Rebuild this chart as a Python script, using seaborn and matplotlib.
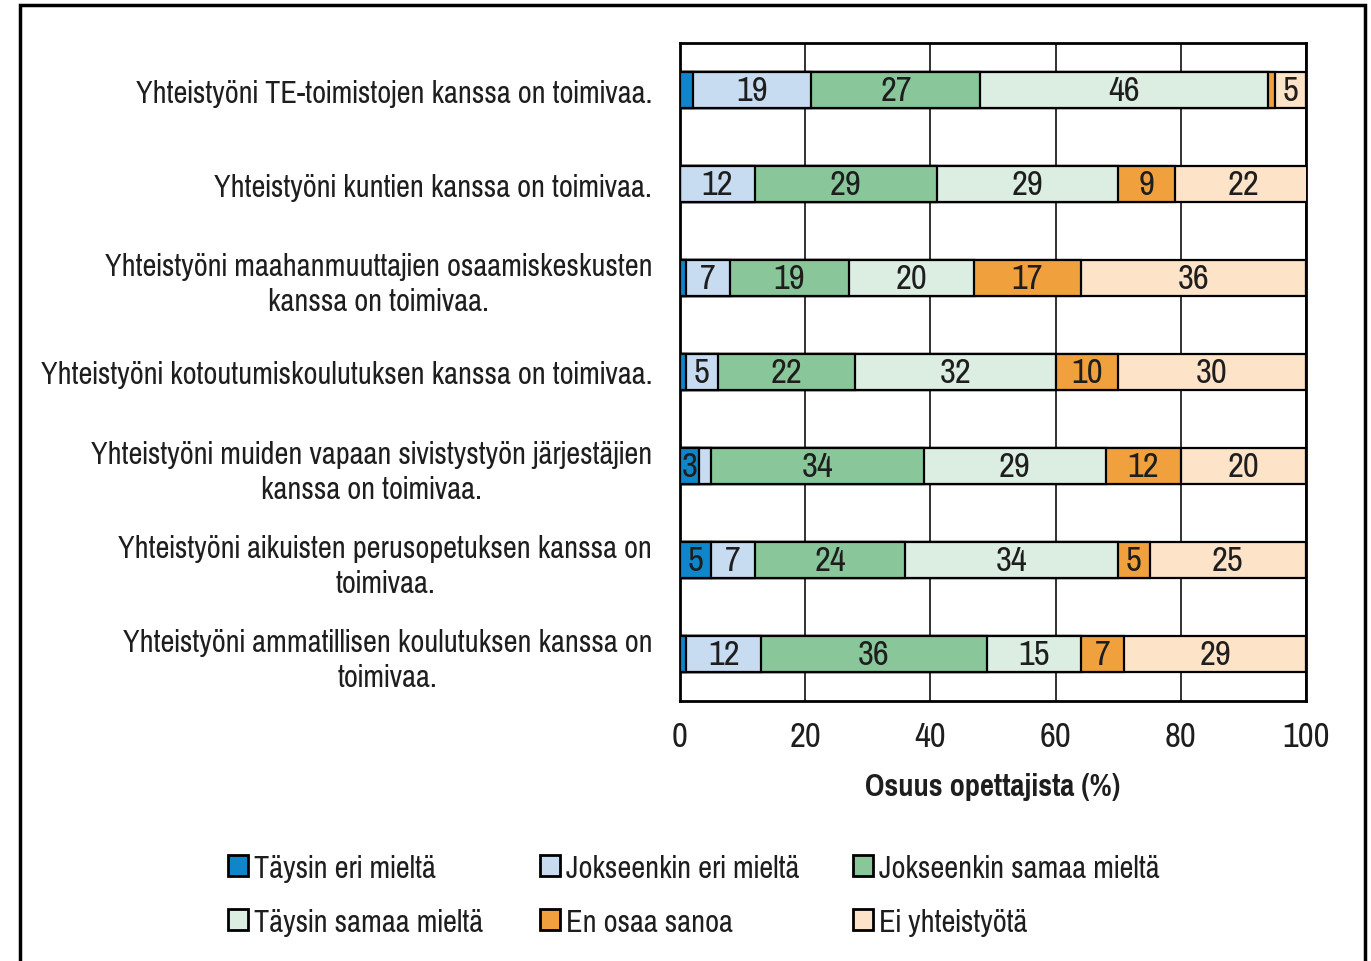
import numpy as np
import pandas as pd
import seaborn as sns
import matplotlib
matplotlib.use("Agg")
from matplotlib import pyplot as plt
from matplotlib import font_manager
from matplotlib.patches import Patch, Rectangle

categories = [
    "Yhteistyöni TE-toimistojen kanssa on toimivaa.",
    "Yhteistyöni kuntien kanssa on toimivaa.",
    "Yhteistyöni maahanmuuttajien osaamiskeskusten\nkanssa on toimivaa.",
    "Yhteistyöni kotoutumiskoulutuksen kanssa on toimivaa.",
    "Yhteistyöni muiden vapaan sivistystyön järjestäjien\nkanssa on toimivaa.",
    "Yhteistyöni aikuisten perusopetuksen kanssa on\ntoimivaa.",
    "Yhteistyöni ammatillisen koulutuksen kanssa on\ntoimivaa.",
]
series = [
    "Täysin eri mieltä",
    "Jokseenkin eri mieltä",
    "Jokseenkin samaa mieltä",
    "Täysin samaa mieltä",
    "En osaa sanoa",
    "Ei yhteistyötä",
]
taysin_eri = [2, 0, 1, 1, 3, 5, 1]
jokseenkin_eri = [19, 12, 7, 5, 2, 7, 12]
jokseenkin_samaa = [27, 29, 19, 22, 34, 24, 36]
taysin_samaa = [46, 29, 20, 32, 29, 34, 15]
en_osaa = [1, 9, 17, 10, 12, 5, 7]
ei_yhteistyota = [5, 22, 36, 30, 20, 25, 29]
colors = ["#0f86c9", "#c7dbf1", "#89c79b", "#dcede2", "#f0a13d", "#fde3c8"]

# narrow font like the original if one is around
names = {f.name for f in font_manager.fontManager.ttflist}
font = "Liberation Sans"
for cand in ["Liberation Sans Narrow", "Arial Narrow", "Pragati Narrow", "Archivo Narrow",
             "PT Sans Narrow", "Roboto Condensed", "Liberation Sans"]:
    if cand in names:
        font = cand
        break

sns.set_theme(style="white")
plt.rcParams["font.family"] = [font, "DejaVu Sans"]

df = pd.DataFrame(
    np.array([taysin_eri, jokseenkin_eri, jokseenkin_samaa, taysin_samaa, en_osaa, ei_yhteistyota]).T,
    columns=series,
)
df["cat"] = categories
cum = df[series].cumsum(axis=1)

fig = plt.figure(figsize=(13.71, 9.62), dpi=100)

# scale the font so the first label is as wide as in the original (~515 px)
rend = fig.canvas.get_renderer()
probe = fig.text(0, 0, categories[0], fontsize=22)
k = 515 / probe.get_window_extent(rend).width
probe.remove()
fs_lab, fs_val, fs_leg = 22 * k, 25 * k, 22 * k
ink = "#1e1e1e"

ax = fig.add_axes([680 / 1371, 1 - 702 / 962, 626 / 1371, 658 / 962])

# draw cumulative bars from the longest to the shortest so they stack
for i in range(len(series) - 1, -1, -1):
    sns.barplot(x=cum[series[i]], y=df["cat"], color=colors[i], saturation=1, width=0.39,
                edgecolor="black", linewidth=1.6, orient="h", ax=ax, zorder=3)

for r, row in df.iterrows():
    left = 0
    for s in series:
        v = row[s]
        if v >= 3:
            ax.text(left + v / 2, r, f"{v:g}", ha="center", va="center",
                    fontsize=fs_val, color=ink, zorder=5)
        left += v

ax.set_xlim(0, 100)
ax.set_ylim(6.5, -0.5)
ax.set_xticks(range(0, 101, 20))
ax.xaxis.grid(True, color="#222222", linewidth=1.3, zorder=0)
ax.set_axisbelow(True)
for sp in ax.spines.values():
    sp.set_visible(True)
    sp.set_color("black")
    sp.set_linewidth(2)
ax.tick_params(axis="x", length=0, pad=14, labelsize=fs_val, labelcolor=ink)
ax.tick_params(axis="y", length=0, pad=20, labelsize=fs_lab, labelcolor=ink)
for lab in ax.get_yticklabels():
    lab.set_multialignment("center")
    lab.set_linespacing(1.3)
ax.set_ylabel("")
ax.set_xlabel("Osuus opettajista (%)", fontsize=fs_lab, fontweight="bold", labelpad=14, color=ink)

# legend: three columns, filled row by row
col_x = [228, 540, 853]
for c in range(3):
    idx = [c, c + 3]
    fig.legend([Patch(facecolor=colors[i], edgecolor="black", linewidth=2) for i in idx],
               [series[i] for i in idx], loc="upper left",
               bbox_to_anchor=(col_x[c] / 1371, 1 - 855 / 962), frameon=False,
               fontsize=fs_leg, handlelength=0.6, handleheight=0.6, handletextpad=0.2,
               labelspacing=0.8, borderpad=0, borderaxespad=0, labelcolor=ink)

fig.add_artist(Rectangle((20 / 1371, -0.05), 1345 / 1371, 1.05 - 6 / 962,
                         transform=fig.transFigure, fill=False,
                         edgecolor="black", linewidth=2.5))

fig.savefig("out.png", dpi=100, facecolor="white")
